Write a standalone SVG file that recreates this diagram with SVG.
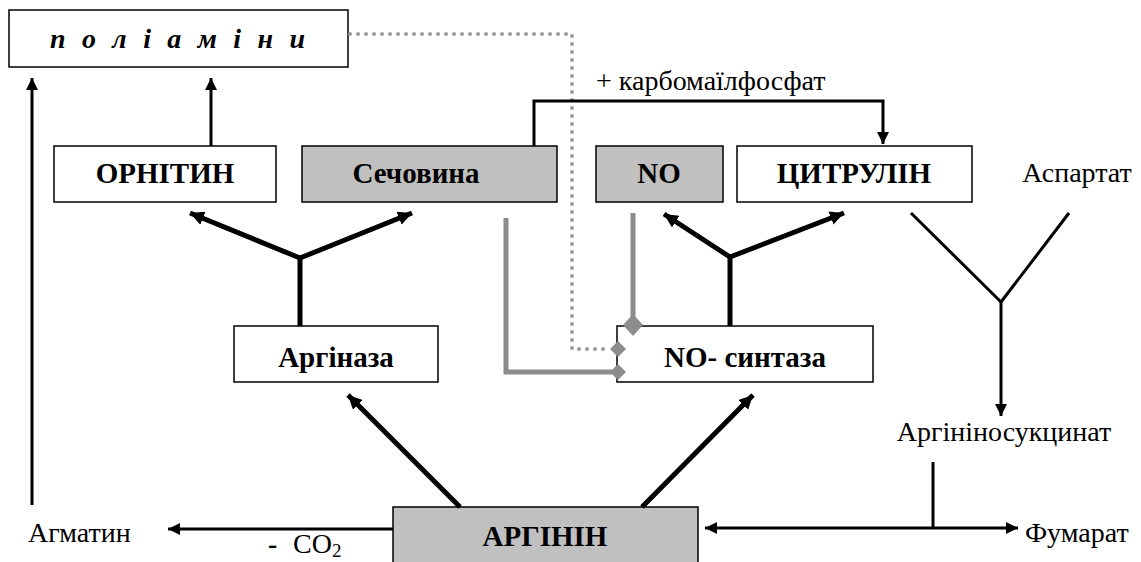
<svg xmlns="http://www.w3.org/2000/svg" width="1141" height="562" viewBox="0 0 1141 562">
<style>
  text{font-family:'Liberation Serif','Tinos','DejaVu Serif',serif}
  .box{stroke:#000;stroke-width:1.5;fill:#fff}
  .gbox{stroke:#000;stroke-width:1.5;fill:#c0c0c0}
  .lbl{font-weight:bold;font-size:29px;text-anchor:middle;fill:#000}
  .txt{font-size:28px;fill:#000}
  .thick{stroke:#000;stroke-width:5;fill:none}
  .med{stroke:#000;stroke-width:3;fill:none}
  .gray{stroke:#8c8c8c;stroke-width:5;fill:none}
  .dot{stroke:#9a9a9a;stroke-width:4;fill:none;stroke-linecap:round;stroke-dasharray:0 8}
  .dia{fill:#8c8c8c}
</style>
<defs>
  <marker id="ah" markerUnits="userSpaceOnUse" markerWidth="16" markerHeight="14" refX="14" refY="7" orient="auto">
    <path d="M0,0 L14,7 L0,14 Z" fill="#000"/>
  </marker>
  <marker id="ahs" markerUnits="userSpaceOnUse" markerWidth="14" markerHeight="12" refX="12" refY="6" orient="auto">
    <path d="M0,0 L12,6 L0,12 Z" fill="#000"/>
  </marker>
  <marker id="ahstart" markerUnits="userSpaceOnUse" markerWidth="14" markerHeight="12" refX="0" refY="6" orient="auto">
    <path d="M12,0 L0,6 L12,12 Z" fill="#000"/>
  </marker>
</defs>

<g id="poliaminy">
  <rect class="box" x="9" y="10" width="339" height="57"/>
  <text x="50" y="48" textLength="255" lengthAdjust="spacing" style="font-weight:bold;font-style:italic;font-size:28px">п о л і а м і н и</text>
</g>
<g id="ornityn">
  <rect class="box" x="54" y="146" width="222" height="56"/>
  <text class="lbl" x="165" y="183">ОРНІТИН</text>
</g>
<g id="sechovyna">
  <rect class="gbox" x="302" y="146" width="255" height="56"/>
  <text class="lbl" x="416" y="183">Сечовина</text>
</g>
<g id="no">
  <rect class="gbox" x="596" y="146" width="127" height="56"/>
  <text class="lbl" x="659" y="183">NO</text>
</g>
<g id="tsytrulin">
  <rect class="box" x="737" y="146" width="235" height="56"/>
  <text class="lbl" x="854" y="183">ЦИТРУЛІН</text>
</g>
<g id="aspartat">
  <text class="txt" x="1077" y="182" text-anchor="middle">Аспартат</text>
</g>
<g id="arhinaza">
  <rect class="box" x="234" y="326" width="204" height="56"/>
  <text class="lbl" x="336" y="367">Аргіназа</text>
</g>
<g id="no-syntaza">
  <rect class="box" x="617" y="326" width="256" height="56"/>
  <text class="lbl" x="745" y="367">NO- синтаза</text>
</g>
<g id="karbomoilfosfat">
  <text class="txt" x="596" y="90">+  карбомаїлфосфат</text>
</g>
<g id="arhininosuktsynat">
  <text class="txt" x="1004" y="441" text-anchor="middle">Аргініносукцинат</text>
</g>
<g id="arhinin">
  <rect class="gbox" x="393" y="507" width="305" height="60"/>
  <text class="lbl" x="545" y="546">АРГІНІН</text>
</g>
<g id="ahmatyn">
  <text class="txt" x="28" y="542">Агматин</text>
</g>
<g id="co2">
  <text class="txt" x="268" y="553" style="font-weight:bold">-</text>
  <text class="txt" x="293" y="553">CO<tspan font-size="19" dy="4">2</tspan></text>
</g>
<g id="fumarat">
  <text class="txt" x="1025" y="542">Фумарат</text>
</g>

<g id="connectors">
  <polyline class="dot" points="350,34 572,34 572,349 610,349"/>
  <polyline class="gray" points="506,218 506,372 612,372"/>
  <line class="gray" x1="633" y1="213" x2="633" y2="318"/>
  <path class="dia" d="M618,341 L626,349 L618,357 L610,349 Z"/>
  <path class="dia" d="M618,364 L626,372 L618,380 L610,372 Z"/>
  <path class="dia" d="M633,314 L643,325 L633,336 L623,325 Z"/>
  <line class="med" x1="32" y1="505" x2="32" y2="78" marker-end="url(#ahs)"/>
  <line class="med" x1="211" y1="146" x2="211" y2="78" marker-end="url(#ahs)"/>
  <polyline class="med" points="534,146 534,101 883,101 883,144" marker-end="url(#ahs)"/>
  <line class="thick" x1="300" y1="326" x2="300" y2="258"/>
  <line class="thick" x1="300" y1="258" x2="190" y2="213" marker-end="url(#ah)"/>
  <line class="thick" x1="300" y1="258" x2="412" y2="213" marker-end="url(#ah)"/>
  <line class="thick" x1="730" y1="326" x2="730" y2="257"/>
  <line class="thick" x1="730" y1="257" x2="664" y2="214" marker-end="url(#ah)"/>
  <line class="thick" x1="730" y1="257" x2="844" y2="213" marker-end="url(#ah)"/>
  <line class="thick" x1="460" y1="507" x2="348" y2="395" marker-end="url(#ah)"/>
  <line class="thick" x1="642" y1="507" x2="753" y2="395" marker-end="url(#ah)"/>
  <line class="med" x1="393" y1="529" x2="168" y2="529" marker-end="url(#ahs)"/>
  <line class="med" x1="705" y1="528" x2="1018" y2="528" marker-start="url(#ahstart)" marker-end="url(#ahs)"/>
  <line class="med" x1="933" y1="462" x2="933" y2="528"/>
  <line class="med" x1="911" y1="213" x2="1001" y2="302"/>
  <line class="med" x1="1069" y1="213" x2="1001" y2="302"/>
  <line class="med" x1="1001" y1="302" x2="1001" y2="416" marker-end="url(#ahs)"/>
</g>
</svg>
